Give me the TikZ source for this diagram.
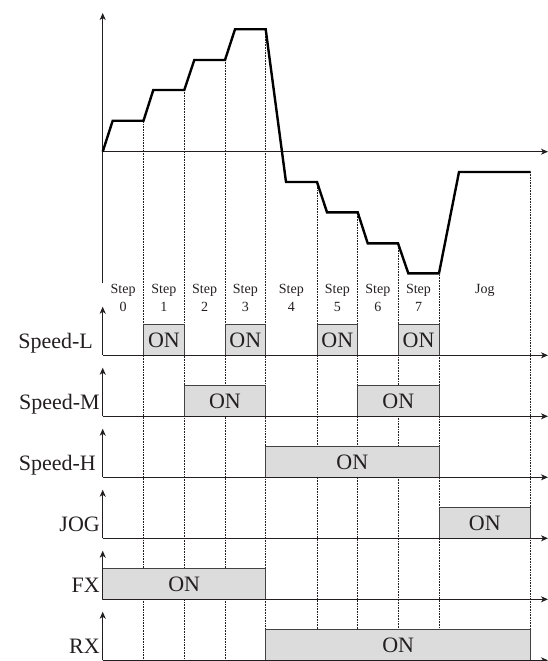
\documentclass[tikz,border=0pt]{standalone}
\usepackage{fontspec}
\setmainfont{Liberation Serif}
\usepackage{tikz}
\usetikzlibrary{arrows.meta}
\definecolor{InkGray}{HTML}{231F20}
\definecolor{BoxGray}{HTML}{DCDCDC}
\tikzset{
  axis/.style={-{Stealth[length=7pt,width=6pt,inset=2pt]},line width=1pt,draw=InkGray},
  onbox/.style={draw=InkGray!85,fill=BoxGray,line width=0.9pt},
  guide/.style={densely dotted,line width=0.6pt,draw=InkGray},
  speed/.style={line width=2.4pt,draw=black,line join=miter},
  siglabel/.style={font=\fontsize{22}{24}\selectfont,anchor=base east,inner sep=0pt,text=InkGray},
  steplabel/.style={font=\fontsize{14}{18}\selectfont,align=center,anchor=north,inner sep=0pt,text=InkGray},
  ontext/.style={font=\fontsize{22}{24}\selectfont,inner sep=0pt,text=InkGray}
}

\begin{document}
\begin{tikzpicture}[x=1pt,y=-1pt]
  \useasboundingbox (0,0) rectangle (548,661);

  % speed profile axes
  \coordinate (o) at (102.7,151.7);
  \coordinate (vbot) at (102.7,283);
  \draw[axis] (vbot) -- (102.7,13);
  \draw[axis] (o) -- (548,151.7);

  % step guides
  \foreach \x/\y in {143.5/120.7,184.3/90,225/60,265.7/29.3,317/182,357.7/212.3,398/243.3,439/273.3,530.7/172}
    \draw[guide] (\x,\y) -- (\x,660);

  % step labels
  \foreach \i/\x in {0/123.1,1/163.9,2/204.6,3/245.3,4/291.3,5/337.3,6/377.8,7/418.5}
    \node[steplabel] (st\i) at (\x,284) {Step\\\i};
  \node[steplabel] (stjog) at (484.8,284) {Jog};

  % speed curve
  \draw[speed] (o) -- (112.7,120.7) -- (143.5,120.7) -- (153.3,90) -- (184.3,90)
    -- (194.3,60) -- (225,60) -- (235,29.3) -- (265.7,29.3) -- (286,182) -- (317,182)
    -- (327,212.3) -- (357.7,212.3) -- (367.7,243.3) -- (398,243.3) -- (408.3,273.3)
    -- (439,273.3) -- (459,172) -- (530.7,172);

  % ON boxes
  \foreach \n/\a/\b/\y in {L1/143.5/184.3/355.3,L2/225/265.7/355.3,L3/317/357.7/355.3,L4/398/439/355.3,
                           M1/184.3/265.7/416.3,M2/357.7/439/416.3,H1/265.7/439/477.3,J1/439/530.7/538.3,
                           F1/102.7/265.7/599.3,R1/265.7/530.7/660.3}{
    \draw[onbox] (\a,\y) rectangle (\b,\y-30.5);
    \node[ontext] (on\n) at ({(\a+\b)/2},\y-15.3) {ON};
  }

  % signal axes
  \foreach \n/\txt/\y/\e in {L/Speed-L/355.3/93,M/Speed-M/416.3/100,H/Speed-H/477.3/96,
                             J/JOG/538.3/100,F/FX/599.3/100,R/RX/660.3/100}{
    \draw[axis] (102.7,\y) -- (102.7,\y-48.6);
    \draw[axis] (102.7,\y) -- (548,\y);
    \node[siglabel] (lbl\n) at (\e,\y-7) {\txt};
  }
\end{tikzpicture}
\end{document}
